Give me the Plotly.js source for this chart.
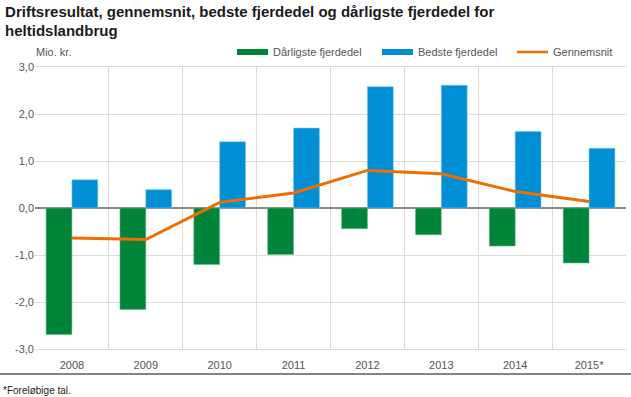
<!DOCTYPE html>
<html><head><meta charset="utf-8">
<script src="https://cdn.plot.ly/plotly-3.0.1.min.js"></script>
<style>html,body{margin:0;padding:0;background:#fff}#c{width:631px;height:397px}</style>
</head><body><div id="c"></div>
<script>
const years = ["2008","2009","2010","2011","2012","2013","2014","2015*"];
const worstQuarter = [-2.69,-2.16,-1.20,-0.99,-0.44,-0.57,-0.81,-1.17];
const bestQuarter = [0.60,0.39,1.41,1.70,2.58,2.61,1.63,1.27];
const average = [-0.64,-0.67,0.12,0.32,0.80,0.73,0.35,0.14];
const yTicks = [-3,-2,-1,0,1,2,3];
const yTickText = ["-3,0","-2,0","-1,0","0,0","1,0","2,0","3,0"];

const cGreen = "#00843a", cBlue = "#008fd5", cOrange = "#ef6e00";
const sans = "Liberation Sans, Arial, sans-serif";
const traces = [
  {type:"bar", name:"Dårligste fjerdedel", x:years, y:worstQuarter, marker:{color:cGreen, line:{color:"#6fb98a", width:0.6}}, showlegend:false},
  {type:"bar", name:"Bedste fjerdedel", x:years, y:bestQuarter, marker:{color:cBlue, line:{color:"#7cc3ea", width:0.6}}, showlegend:false},
  {type:"scatter", mode:"lines", name:"Gennemsnit", x:years, y:average, line:{color:cOrange, width:3}, showlegend:false}
];
function px(x){return (x-35)/591;}
function py(y){return (349-y)/282;}
const layout = {
  width:631, height:397,
  margin:{l:35, r:5, t:67, b:48},
  paper_bgcolor:"#fff", plot_bgcolor:"#fff",
  barmode:"group", bargap:0.3, bargroupgap:0,
  title:{text:"Driftsresultat, gennemsnit, bedste fjerdedel og dårligste fjerdedel for<br>heltidslandbrug",
    x:0.008, xanchor:"left", xref:"container", y:0.958, yanchor:"top", yref:"container",
    font:{family:sans, size:15, color:"#1a1a1a", weight:"bold"}},
  xaxis:{type:"category", tickson:"boundaries", showgrid:true, gridcolor:"#dcdcd4", gridwidth:1,
    ticks:"", showline:true, linecolor:"#dcdcd4", mirror:true, zeroline:false, ticklabelstandoff:6,
    tickfont:{family:sans, size:11, color:"#555"}, fixedrange:true},
  yaxis:{range:[-3,3], tickvals:yTicks, ticktext:yTickText, showgrid:true, gridcolor:"#dcdcd4", gridwidth:1,
    zeroline:true, zerolinecolor:"#8a8a84", zerolinewidth:1.5, ticks:"", ticklen:0,
    tickfont:{family:sans, size:11, color:"#555"}, showline:false, fixedrange:true},
  shapes:[
    {type:"rect", xref:"paper", yref:"paper", x0:px(237), x1:px(268), y0:py(55), y1:py(49), fillcolor:cGreen, line:{width:0}},
    {type:"rect", xref:"paper", yref:"paper", x0:px(382), x1:px(413), y0:py(55), y1:py(49), fillcolor:cBlue, line:{width:0}},
    {type:"line", xref:"paper", yref:"paper", x0:px(517), x1:px(548), y0:py(52), y1:py(52), line:{color:cOrange, width:2.5}},
    {type:"line", xref:"paper", yref:"paper", x0:px(0), x1:px(631), y0:py(374), y1:py(374), line:{color:"#7a878b", width:2}}
  ],
  annotations:[
    {text:"Mio. kr.", xref:"paper", yref:"paper", x:px(34), y:py(52), xanchor:"left", yanchor:"middle", showarrow:false, font:{family:sans, size:11, color:"#555"}},
    {text:"Dårligste fjerdedel", xref:"paper", yref:"paper", x:px(271), y:py(52), xanchor:"left", yanchor:"middle", showarrow:false, font:{family:sans, size:11, color:"#555"}},
    {text:"Bedste fjerdedel", xref:"paper", yref:"paper", x:px(416), y:py(52), xanchor:"left", yanchor:"middle", showarrow:false, font:{family:sans, size:11, color:"#555"}},
    {text:"Gennemsnit", xref:"paper", yref:"paper", x:px(551), y:py(52), xanchor:"left", yanchor:"middle", showarrow:false, font:{family:sans, size:11, color:"#555"}},
    {text:"*Foreløbige tal.", xref:"paper", yref:"paper", x:px(1), y:py(390), xanchor:"left", yanchor:"middle", showarrow:false, font:{family:sans, size:10, color:"#222"}}
  ]
};
Plotly.newPlot("c", traces, layout, {displayModeBar:false, staticPlot:true});
</script></body></html>
